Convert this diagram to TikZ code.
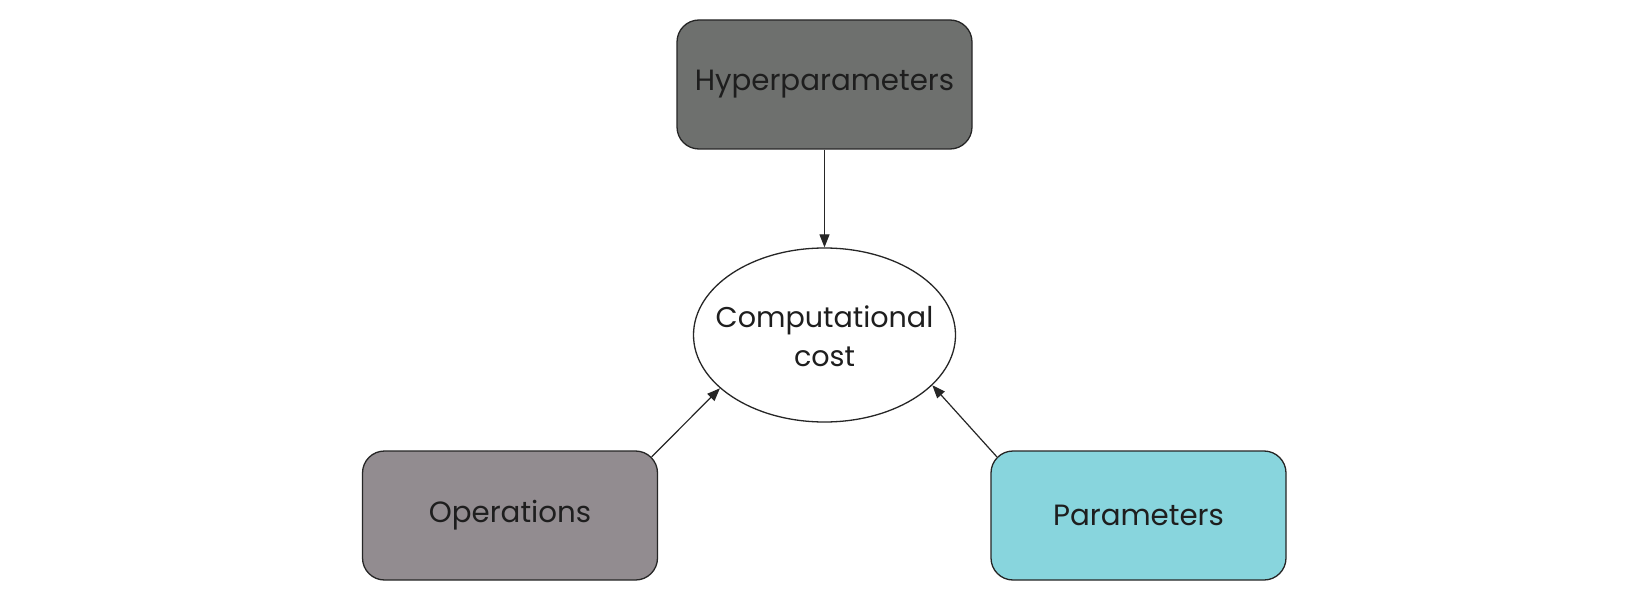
\documentclass[tikz,border=0pt]{standalone}
\usepackage{fontspec}
\setmainfont{Poppins}
\usetikzlibrary{shapes.geometric,arrows.meta,calc}
\definecolor{hypfill}{HTML}{6E706E}
\definecolor{opsfill}{HTML}{928C90}
\definecolor{parfill}{HTML}{88D5DD}
\definecolor{txt}{HTML}{1E1E1E}
\tikzset{
  box/.style={draw=black!85, line width=1.3pt, rounded corners=22pt, minimum width=295pt, minimum height=129pt, inner sep=0pt, text=txt, font=\fontsize{29.3}{36}\selectfont},
  costshape/.style={draw=black!85, line width=1.3pt, ellipse, minimum width=262pt, minimum height=174pt, inner sep=0pt},
  costlabel/.style={align=center, text=txt, font=\fontsize{28.6}{39}\selectfont, inner sep=0pt},
  conn/.style={draw=black!85, line width=1.2pt, -{Triangle[length=13pt,width=10pt]}}
}
\begin{document}
\begin{tikzpicture}[x=1pt,y=-1pt]
\useasboundingbox[fill=white] (0,0) rectangle (1650,599);
\node[box, fill=hypfill] (hyper) at (824.5,84.5) {Hyperparameters};
\node[box, fill=opsfill] (ops) at (510,515.5) {Operations};
\node[box, fill=parfill] (par) at (1138.5,515.5) {Parameters};
\node[costshape] (cost) at (824.5,335) {};
\node[costlabel] (costtext) at (824.5,336) {Computational\\cost};
\coordinate (opsstart) at ($(ops.north east)+(-6.5,6.5)$);
\coordinate (parstart) at ($(par.north west)+(6.5,6.5)$);
\draw[conn] (hyper.south) -- (cost.north);
\draw[conn] (opsstart) -- (cost.207);
\draw[conn] (parstart) -- (cost.335);
\end{tikzpicture}
\end{document}
